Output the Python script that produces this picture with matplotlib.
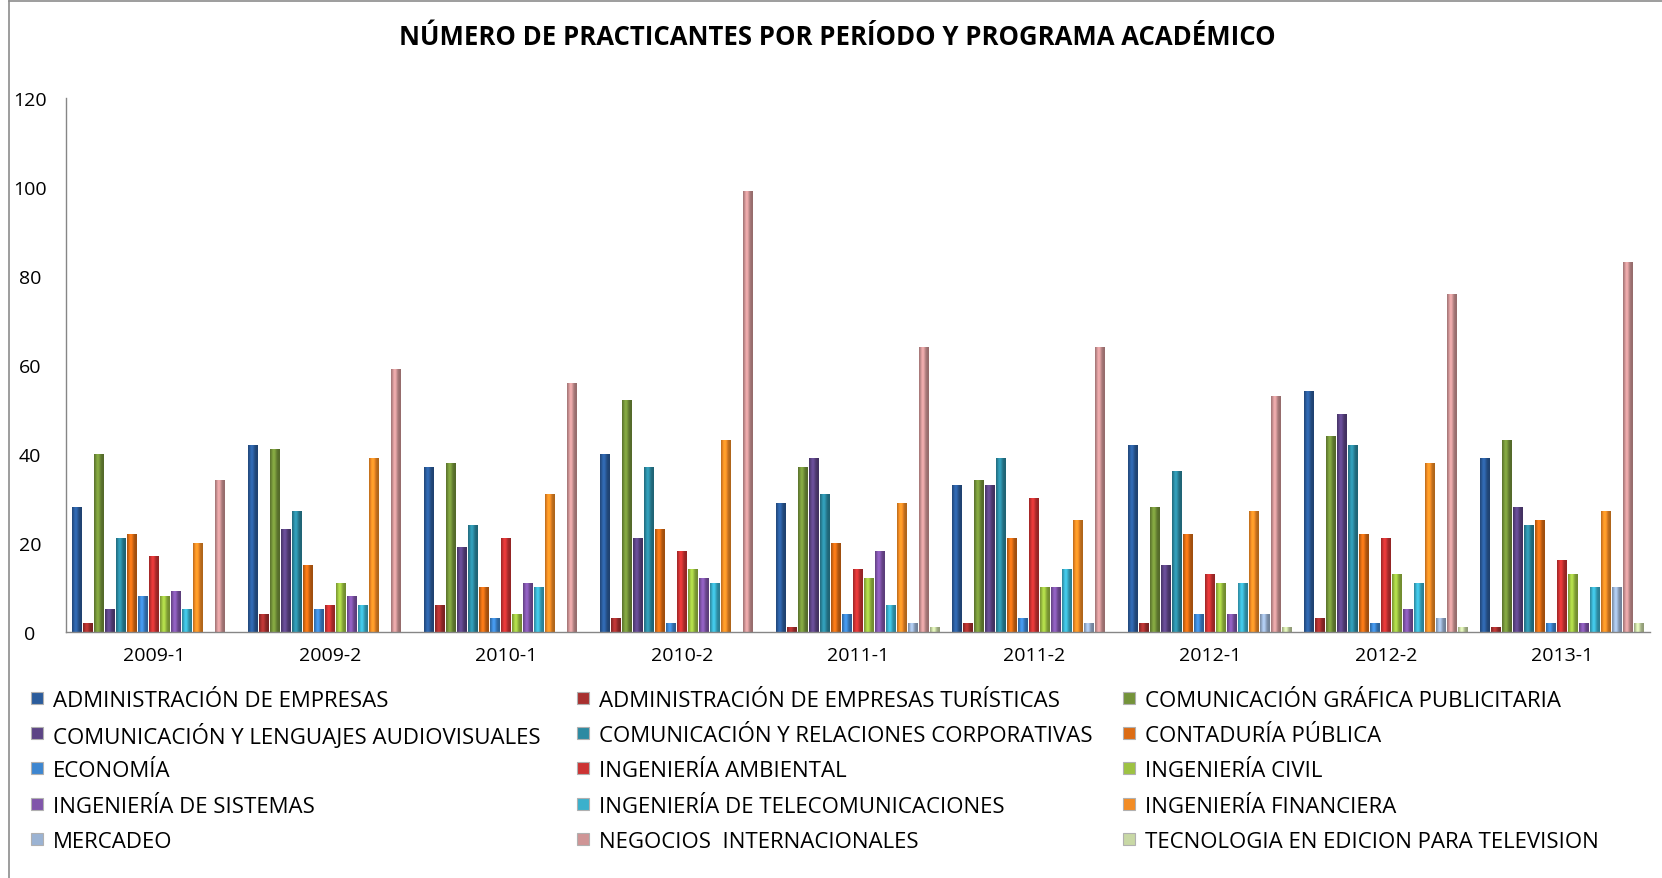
import numpy as np
import matplotlib
matplotlib.use("Agg")
import matplotlib.pyplot as plt
from matplotlib.lines import Line2D
from matplotlib.patches import Rectangle
from matplotlib.colors import to_rgb

plt.rcParams['font.family'] = ['Open Sans', 'DejaVu Sans']

periodos = ['2009-1', '2009-2', '2010-1', '2010-2', '2011-1',
            '2011-2', '2012-1', '2012-2', '2013-1']

programas = [
    'ADMINISTRACIÓN DE EMPRESAS',
    'ADMINISTRACIÓN DE EMPRESAS TURÍSTICAS',
    'COMUNICACIÓN GRÁFICA PUBLICITARIA',
    'COMUNICACIÓN Y LENGUAJES AUDIOVISUALES',
    'COMUNICACIÓN Y RELACIONES CORPORATIVAS',
    'CONTADURÍA PÚBLICA',
    'ECONOMÍA',
    'INGENIERÍA AMBIENTAL',
    'INGENIERÍA CIVIL',
    'INGENIERÍA DE SISTEMAS',
    'INGENIERÍA DE TELECOMUNICACIONES',
    'INGENIERÍA FINANCIERA',
    'MERCADEO',
    'NEGOCIOS  INTERNACIONALES',
    'TECNOLOGIA EN EDICION PARA TELEVISION',
]

adm_empresas     = [28, 42, 37, 40, 29, 33, 42, 54, 39]
adm_turisticas   = [2, 4, 6, 3, 1, 2, 2, 3, 1]
com_grafica      = [40, 41, 38, 52, 37, 34, 28, 44, 43]
com_lenguajes    = [5, 23, 19, 21, 39, 33, 15, 49, 28]
com_relaciones   = [21, 27, 24, 37, 31, 39, 36, 42, 24]
contaduria       = [22, 15, 10, 23, 20, 21, 22, 22, 25]
economia         = [8, 5, 3, 2, 4, 3, 4, 2, 2]
ing_ambiental    = [17, 6, 21, 18, 14, 30, 13, 21, 16]
ing_civil        = [8, 11, 4, 14, 12, 10, 11, 13, 13]
ing_sistemas     = [9, 8, 11, 12, 18, 10, 4, 5, 2]
ing_telecom      = [5, 6, 10, 11, 6, 14, 11, 11, 10]
ing_financiera   = [20, 39, 31, 43, 29, 25, 27, 38, 27]
mercadeo         = [0, 0, 0, 0, 2, 2, 4, 3, 10]
negocios         = [34, 59, 56, 99, 64, 64, 53, 76, 83]
tecnologia_tv    = [0, 0, 0, 0, 1, 0, 1, 1, 2]

series = [adm_empresas, adm_turisticas, com_grafica, com_lenguajes,
          com_relaciones, contaduria, economia, ing_ambiental, ing_civil,
          ing_sistemas, ing_telecom, ing_financiera, mercadeo, negocios,
          tecnologia_tv]

colores = ['#2b5c9c', '#a8302f', '#74933a', '#5c4485', '#2c8aa2', '#dc6c14',
           '#3d86d0', '#cc3333', '#9dc242', '#8055aa', '#3bb0cc', '#f28c25',
           '#9bb3d3', '#cf9596', '#c8d8a5']


def sombreado(color):
    # perfil de cilindro: oscuro en los bordes, brillo a la izquierda del centro
    t = np.linspace(0, 1, 24)
    f = 0.72 + 0.45 * np.exp(-((t - 0.38) / 0.28) ** 2)
    rgb = np.clip(np.array(to_rgb(color))[None, :] * f[:, None], 0, 1)
    return rgb[None, :, :]


fig = plt.figure(figsize=(16.62, 8.79), dpi=100)
ax = fig.add_axes([0.0397, 0.280, 0.953, 0.607])

x = np.arange(len(periodos))
slot = 1 / 16
ancho = 0.053
for i, (vals, c) in enumerate(zip(series, colores)):
    barras = ax.bar(x + (i - 7) * slot, vals, width=ancho, color=c,
                    linewidth=0, label=programas[i], zorder=2)
    img = sombreado(c)
    for r in barras:
        h = r.get_height()
        if h <= 0:
            continue
        x0 = r.get_x()
        ax.imshow(img, extent=[x0, x0 + r.get_width(), 0, h],
                  aspect='auto', interpolation='bilinear', zorder=3)

ax.set_xlim(-0.5, len(periodos) - 0.5)
ax.set_ylim(0, 120)
ax.set_yticks(range(0, 121, 20))
ax.set_xticks(x)
ax.set_xticklabels(periodos)
ax.tick_params(axis='y', length=0, pad=26, labelsize=14)
ax.tick_params(axis='x', length=0, pad=10, labelsize=14)
for lbl in ax.get_yticklabels():
    lbl.set_ha('center')

for s in ['top', 'right']:
    ax.spines[s].set_visible(False)
for s in ['left', 'bottom']:
    ax.spines[s].set_color('#868686')
    ax.spines[s].set_linewidth(1.0)
    ax.spines[s].set_zorder(4)

fig.text(0.504, 0.957, 'NÚMERO DE PRACTICANTES POR PERÍODO Y PROGRAMA ACADÉMICO',
         ha='center', va='center', fontsize=18.5, fontweight='bold')

# leyenda: 3 columnas x 5 filas, orden por filas
col_x = [31 / 1662, 577 / 1662, 1123 / 1662]
fila_y = [0.2053, 0.1655, 0.1246, 0.0847, 0.0449]
lado_w = 12 / 1662
lado_h = 12 / 879
for k, (nombre, c) in enumerate(zip(programas, colores)):
    fila, col = divmod(k, 3)
    x0 = col_x[col]
    y0 = fila_y[fila]
    fig.add_artist(Rectangle((x0, y0 - lado_h / 2), lado_w, lado_h,
                             transform=fig.transFigure, facecolor=c,
                             edgecolor='#b0b0b0', linewidth=0.8))
    fig.text(x0 + 22 / 1662, y0, nombre, ha='left', va='center_baseline',
             fontsize=16)

# borde del gráfico
fig.add_artist(Line2D([0.0054, 0.0054], [0, 0.998], transform=fig.transFigure,
                      color='#8c8c8c', linewidth=1.2))
fig.add_artist(Line2D([0.0054, 1], [0.998, 0.998], transform=fig.transFigure,
                      color='#8c8c8c', linewidth=1.2))

fig.savefig('out.png', dpi=100)
